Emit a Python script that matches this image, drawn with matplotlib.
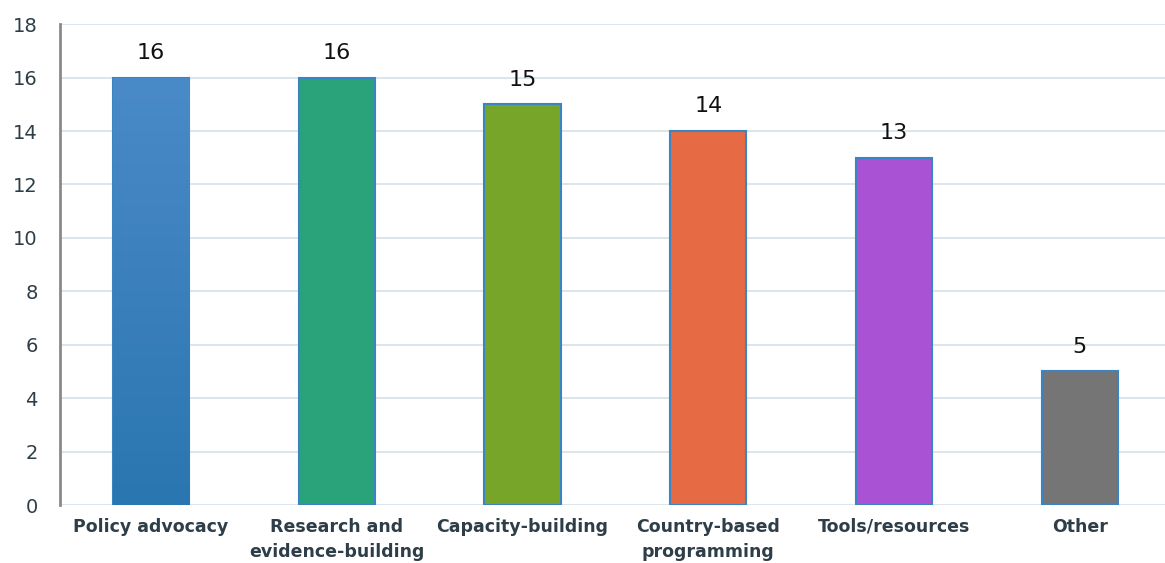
import matplotlib
matplotlib.use('Agg')
import matplotlib.pyplot as plt
import numpy as np
from matplotlib.colors import LinearSegmentedColormap

categories = ['Policy advocacy', 'Research and\nevidence-building', 'Capacity-building',
              'Country-based\nprogramming', 'Tools/resources', 'Other']
values = [16, 16, 15, 14, 13, 5]
colors = ['#3a80bf', '#2aa37b', '#76a52a', '#e66a43', '#a952d3', '#757575']


def main():
    fig = plt.figure(figsize=(11.65, 5.63), dpi=100)
    ax = fig.add_axes([0.0515, 0.103, 0.955, 0.854])

    x = range(len(categories))
    bars = ax.bar(x, values, width=0.41, color=colors, edgecolor='#3a84c4',
                  linewidth=1.5, zorder=3)

    # first bar has a light vertical gradient
    b0 = bars[0]
    cmap = LinearSegmentedColormap.from_list('g', ['#2a76b0', '#4a8ac8'])
    grad = np.linspace(0, 1, 256).reshape(-1, 1)
    im = ax.imshow(grad, cmap=cmap, origin='lower', aspect='auto', zorder=3.5,
                   extent=[b0.get_x(), b0.get_x() + b0.get_width(), 0, b0.get_height()])
    im.set_clip_path(b0)

    for b, v in zip(bars, values):
        ax.text(b.get_x() + b.get_width() / 2, v + 0.55, str(v), ha='center',
                va='bottom', fontsize=16, color='#111111')

    ax.set_xlim(-0.49, 5.5)
    ax.set_ylim(0, 18)
    ax.set_yticks(range(0, 19, 2))
    ax.yaxis.grid(True, color='#d9e3e8', linewidth=1.3, zorder=0)
    ax.set_xticks(list(x))
    ax.set_xticklabels(categories, fontsize=12.5, fontweight='bold', color='#2d3e48',
                       linespacing=1.55)
    ax.tick_params(axis='x', length=0, pad=9)
    ax.tick_params(axis='y', length=0, labelsize=14, colors='#2d3e48', pad=16)

    for s in ['top', 'right', 'bottom']:
        ax.spines[s].set_visible(False)
    ax.spines['left'].set_color('#8a8a8a')
    ax.spines['left'].set_linewidth(2)

    plt.savefig('out.png')


if __name__ == '__main__':
    main()
